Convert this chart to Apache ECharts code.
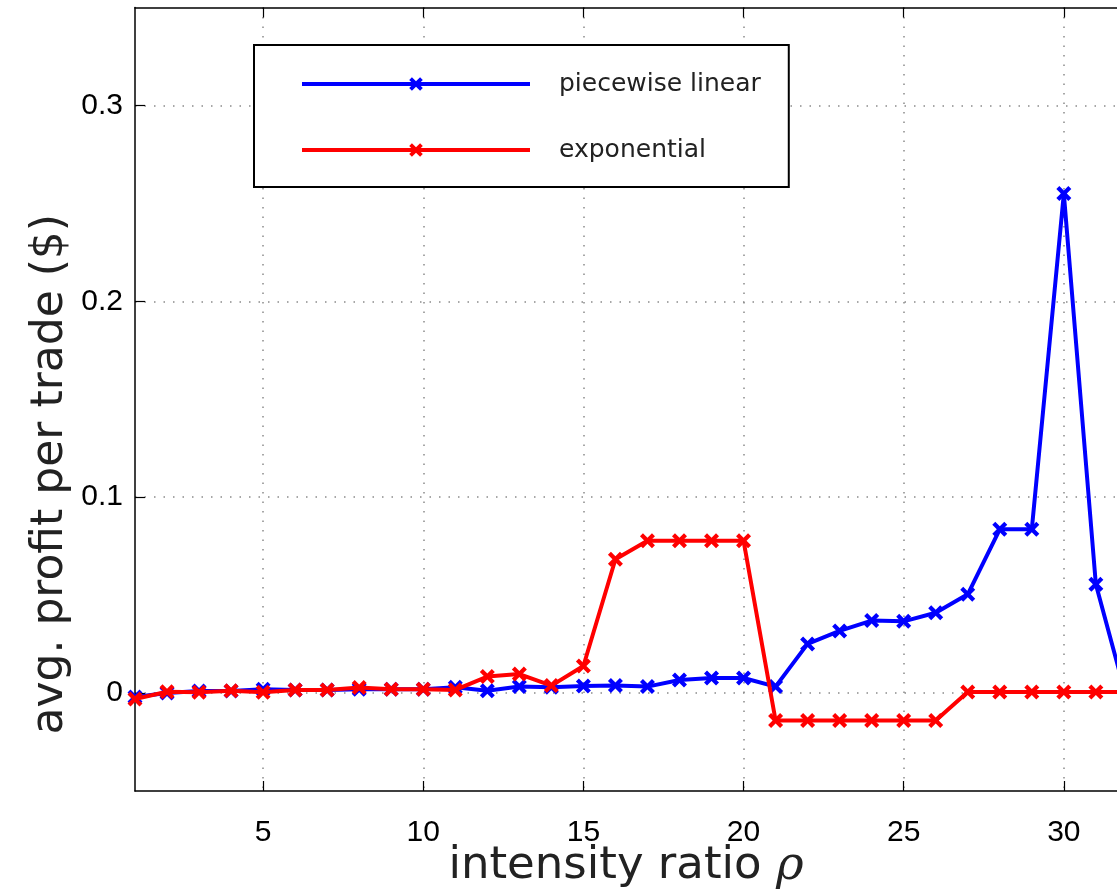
<!DOCTYPE html>
<html>
<head>
<meta charset="utf-8">
<script src="https://cdn.jsdelivr.net/npm/echarts@6/dist/echarts.min.js"></script>
<style>
html,body{margin:0;padding:0;background:#fff;}
#chart{width:1117px;height:892px;}
</style>
</head>
<body>
<div id="chart"></div>
<script>
const rho = [1,2,3,4,5,6,7,8,9,10,11,12,13,14,15,16,17,18,19,20,21,22,23,24,25,26,27,28,29,30,31,32];
const piecewiseLinear = [-0.002,0.000,0.001,0.001,0.002,0.0016,0.0016,0.002,0.002,0.002,0.003,0.0012,0.0033,0.003,0.0036,0.0038,0.0033,0.0067,0.0077,0.0077,0.0033,0.0251,0.0317,0.037,0.0366,0.041,0.0504,0.0836,0.0836,0.255,0.0555,-0.005];
const exponential = [-0.003,0.0007,0.0004,0.0012,0.0004,0.0016,0.0016,0.0028,0.002,0.002,0.0016,0.0084,0.0097,0.0038,0.0138,0.0683,0.0778,0.0778,0.0778,0.0778,-0.014,-0.014,-0.014,-0.014,-0.014,-0.014,0.0005,0.0005,0.0005,0.0005,0.0005,0.0005];
const xTicks = [5,10,15,20,25,30];
const yTicks = [0,0.1,0.2,0.3];
const seriesNames = ['piecewise linear','exponential'];

const xMark = 'path://M0,2 L2,0 L5,3 L8,0 L10,2 L7,5 L10,8 L8,10 L5,7 L2,10 L0,8 L3,5 Z';
const chart = echarts.init(document.getElementById('chart'));
const gridLine = {show:true, lineStyle:{color:'#8a8a8a', width:1.5, type:[1.5,8]}};
const titleFont = 'DejaVu Sans';
chart.setOption({
  backgroundColor:'#fff',
  animation:false,
  grid:{left:135, top:7.5, bottom:101, right:0, show:false, containLabel:false, outerBoundsMode:'none'},
  legend:{
    orient:'vertical', left:254, top:45,
    data:seriesNames,
    backgroundColor:'#fff', borderColor:'#000', borderWidth:2,
    padding:[26,28,24,46], itemGap:40, itemWidth:228, itemHeight:17,
    lineStyle:{width:4},
    textStyle:{fontFamily:titleFont, fontSize:25, color:'#222', padding:[0,0,0,24], lineHeight:26}
  },
  xAxis:[{
    type:'value', min:1, max:31.66,
    axisLine:{onZero:false, lineStyle:{color:'#000', width:1.5}},
    axisTick:{inside:true, length:10, lineStyle:{color:'#000', width:1.2}, customValues:xTicks},
    axisLabel:{customValues:xTicks, fontFamily:'Liberation Sans', fontSize:30, color:'#000', margin:27},
    splitLine:gridLine,
    name:'{a|intensity ratio }{b|ρ}', nameLocation:'middle', nameGap:52, nameMoveOverlap:false,
    nameTextStyle:{rich:{a:{fontFamily:titleFont, fontSize:45, color:'#222'}, b:{fontFamily:'DejaVu Serif', fontStyle:'italic', fontSize:47, color:'#222'}}}
  },{
    type:'value', min:1, max:31.66, position:'top',
    axisLine:{show:true, onZero:false, lineStyle:{color:'#000', width:1.5}},
    axisTick:{show:true, inside:true, length:10, lineStyle:{color:'#000', width:1.2}, customValues:xTicks},
    axisLabel:{show:false, customValues:xTicks},
    splitLine:{show:false}
  }],
  yAxis:{
    type:'value', min:-0.05, max:0.35,
    axisLine:{show:true, onZero:false, lineStyle:{color:'#000', width:1.5}},
    axisTick:{show:true, inside:true, length:10, lineStyle:{color:'#000', width:1.2}, customValues:yTicks},
    axisLabel:{customValues:yTicks, fontFamily:'Liberation Sans', fontSize:30, color:'#000', margin:12,
      formatter:v => v === 0 ? '0' : v.toFixed(1)},
    splitLine:gridLine,
    name:'avg. profit per trade ($)', nameLocation:'middle', nameGap:62, nameRotate:90, nameMoveOverlap:false,
    nameTextStyle:{fontFamily:titleFont, fontSize:44, color:'#222', padding:[0,150,0,0]}
  },
  series:[{
    name:seriesNames[0], type:'line', data:rho.map((x,i)=>[x,piecewiseLinear[i]]),
    color:'#0000ff', lineStyle:{color:'#0000ff', width:4}, itemStyle:{color:'#0000ff'},
    symbol:xMark, symbolSize:15, showSymbol:true, z:2, clip:true
  },{
    name:seriesNames[1], type:'line', data:rho.map((x,i)=>[x,exponential[i]]),
    color:'#ff0000', lineStyle:{color:'#ff0000', width:4}, itemStyle:{color:'#ff0000'},
    symbol:xMark, symbolSize:15, showSymbol:true, z:3, clip:true
  }]
});
</script>
</body>
</html>
